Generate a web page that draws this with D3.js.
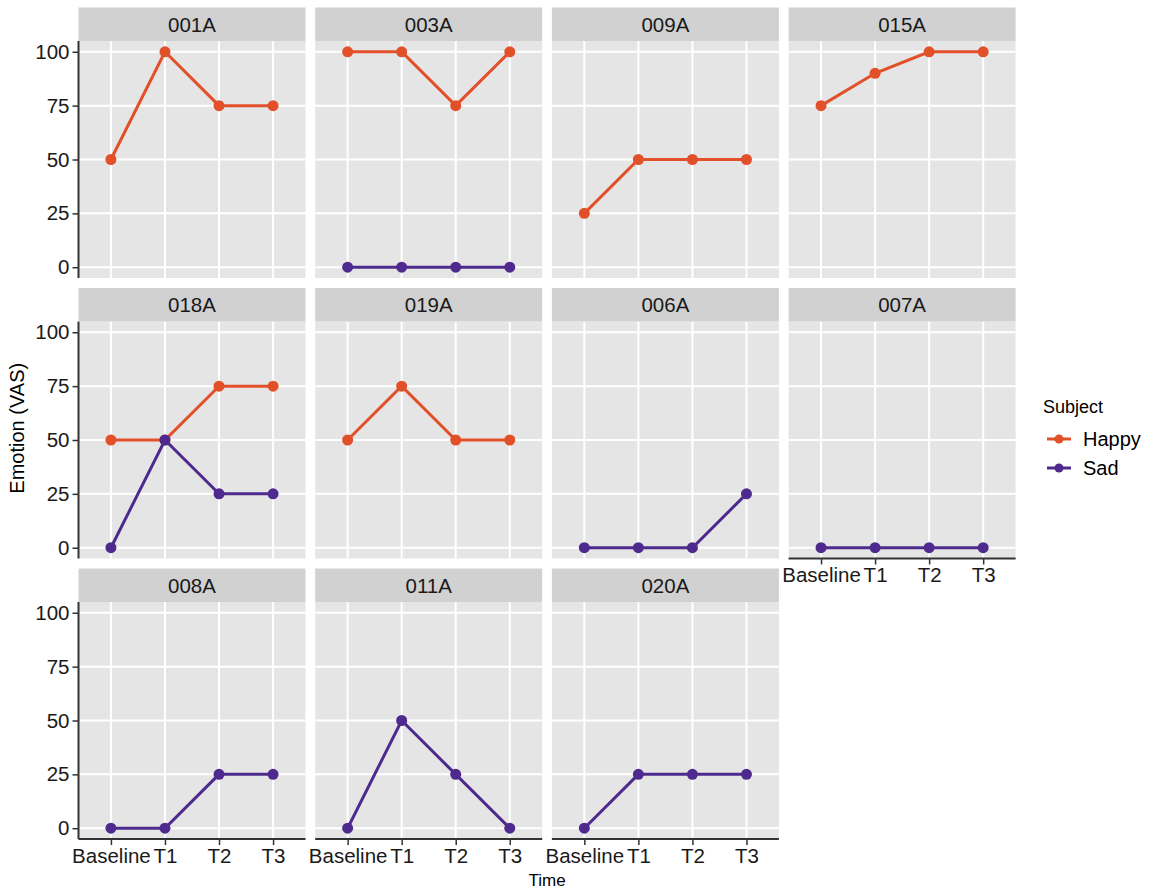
<!DOCTYPE html>
<html>
<head>
<meta charset="utf-8">
<script src="https://cdn.jsdelivr.net/npm/d3@7"></script>
<style>
  html, body { margin: 0; padding: 0; background: #ffffff; }
  svg { display: block; font-family: "Liberation Sans", Arial, sans-serif; }
</style>
</head>
<body>
<svg id="chart" width="1152" height="889"></svg>
<script>
// Facet labels in panel order (left to right, top to bottom)
const facets = ["001A", "003A", "009A", "015A", "018A", "019A", "006A", "007A", "008A", "011A", "020A"];
// Time points on the x axis
const times = ["Baseline", "T1", "T2", "T3"];
// Y-axis tick values
const yTicks = [0, 25, 50, 75, 100];
// Emotion scores per facet (null = no series in that panel)
const happyValues = [
  [50, 100, 75, 75],
  [100, 100, 75, 100],
  [25, 50, 50, 50],
  [75, 90, 100, 100],
  [50, 50, 75, 75],
  [50, 75, 50, 50],
  null, null, null, null, null
];
const sadValues = [
  null,
  [0, 0, 0, 0],
  null,
  null,
  [0, 50, 25, 25],
  null,
  [0, 0, 0, 25],
  [0, 0, 0, 0],
  [0, 0, 25, 25],
  [0, 50, 25, 0],
  [0, 25, 25, 25]
];
const subjects = ["Happy", "Sad"];
const subjectColors = ["#E2502A", "#4E2A8E"];

const svg = d3.select("#chart");

// Facet grid geometry
const nCols = 4;
const panelLeft = 78.5, colPitch = 236.7, panelW = 227;
const stripTop = 7.5, rowPitch = 280.5, stripH = 33.5, panelH = 237;
const tickFont = 20.5;

const x = d3.scalePoint().domain(times).range([0, panelW]).padding(0.6);
const y = d3.scaleLinear().domain([-5, 105]).range([panelH, 0]);
const color = d3.scaleOrdinal().domain(subjects).range(subjectColors);

const line = d3.line()
  .x((d, i) => x(times[i]))
  .y(d => y(d));

const nPanels = facets.length;
const nRows = Math.ceil(nPanels / nCols);

facets.forEach((name, idx) => {
  const col = idx % nCols, row = Math.floor(idx / nCols);
  const px = panelLeft + col * colPitch;
  const sy = stripTop + row * rowPitch;
  const py = sy + stripH;
  // bottom-most panel in its column gets the x axis
  const isBottom = idx + nCols >= nPanels;

  const g = svg.append("g").attr("transform", `translate(${px},${py})`);

  // strip
  svg.append("rect")
    .attr("x", px).attr("y", sy)
    .attr("width", panelW).attr("height", stripH)
    .attr("fill", "#D1D1D1");
  svg.append("text")
    .attr("x", px + panelW / 2).attr("y", sy + stripH / 2 + 7.5)
    .attr("text-anchor", "middle")
    .attr("font-size", tickFont)
    .attr("fill", "#1a1a1a")
    .text(name);

  // panel background
  g.append("rect")
    .attr("width", panelW).attr("height", panelH)
    .attr("fill", "#E5E5E5");

  // grid
  g.selectAll(".hgrid").data(yTicks).enter().append("line")
    .attr("x1", 0).attr("x2", panelW)
    .attr("y1", d => y(d)).attr("y2", d => y(d))
    .attr("stroke", "#ffffff").attr("stroke-width", 2);
  g.selectAll(".vgrid").data(times).enter().append("line")
    .attr("y1", 0).attr("y2", panelH)
    .attr("x1", d => x(d)).attr("x2", d => x(d))
    .attr("stroke", "#ffffff").attr("stroke-width", 2);

  // series: Happy first, Sad drawn on top
  [[subjects[0], happyValues[idx]], [subjects[1], sadValues[idx]]].forEach(([s, vals]) => {
    if (!vals) return;
    g.append("path")
      .datum(vals)
      .attr("d", line)
      .attr("fill", "none")
      .attr("stroke", color(s))
      .attr("stroke-width", 3);
    g.selectAll(null).data(vals).enter().append("circle")
      .attr("cx", (d, i) => x(times[i]))
      .attr("cy", d => y(d))
      .attr("r", 5.5)
      .attr("fill", color(s));
  });

  // left axis on first column
  if (col === 0) {
    const ay = g.append("g").call(d3.axisLeft(y).tickValues(yTicks).tickSize(6).tickPadding(3));
    ay.select(".domain").remove();
    ay.selectAll(".tick line").attr("stroke", "#333333").attr("stroke-width", 1.5);
    ay.selectAll(".tick text")
      .attr("font-size", tickFont).attr("fill", "#1a1a1a")
      .attr("font-family", "Liberation Sans, Arial, sans-serif");
    g.append("line")
      .attr("x1", 0).attr("x2", 0).attr("y1", 0).attr("y2", panelH)
      .attr("stroke", "#333333").attr("stroke-width", 2);
  }
  // bottom axis on last panel of each column
  if (isBottom) {
    const ax = g.append("g").attr("transform", `translate(0,${panelH})`)
      .call(d3.axisBottom(x).tickSize(6).tickPadding(3));
    ax.select(".domain").remove();
    ax.selectAll(".tick line").attr("stroke", "#333333").attr("stroke-width", 1.5);
    ax.selectAll(".tick text")
      .attr("font-size", tickFont).attr("fill", "#1a1a1a")
      .attr("font-family", "Liberation Sans, Arial, sans-serif");
    g.append("line")
      .attr("x1", 0).attr("x2", panelW).attr("y1", panelH).attr("y2", panelH)
      .attr("stroke", "#333333").attr("stroke-width", 2);
  }
});

// axis titles
svg.append("text")
  .attr("x", panelLeft + (nCols * colPitch - (colPitch - panelW)) / 2)
  .attr("y", 886)
  .attr("text-anchor", "middle")
  .attr("font-size", 17)
  .attr("fill", "#000")
  .text("Time");
svg.append("text")
  .attr("transform", `translate(24,${stripTop + (nRows * rowPitch) / 2}) rotate(-90)`)
  .attr("text-anchor", "middle")
  .attr("font-size", 20)
  .attr("fill", "#000")
  .text("Emotion (VAS)");

// legend
const lg = svg.append("g").attr("transform", "translate(1043,0)");
lg.append("text")
  .attr("x", 0).attr("y", 413)
  .attr("font-size", 18).attr("fill", "#000")
  .text("Subject");
subjects.forEach((s, i) => {
  const ky = 439 + i * 29;
  lg.append("line")
    .attr("x1", 4).attr("x2", 28).attr("y1", ky).attr("y2", ky)
    .attr("stroke", color(s)).attr("stroke-width", 3);
  lg.append("circle")
    .attr("cx", 16).attr("cy", ky).attr("r", 4.5)
    .attr("fill", color(s));
  lg.append("text")
    .attr("x", 40).attr("y", ky + 7)
    .attr("font-size", 20).attr("fill", "#000")
    .text(s);
});
</script>
</body>
</html>
